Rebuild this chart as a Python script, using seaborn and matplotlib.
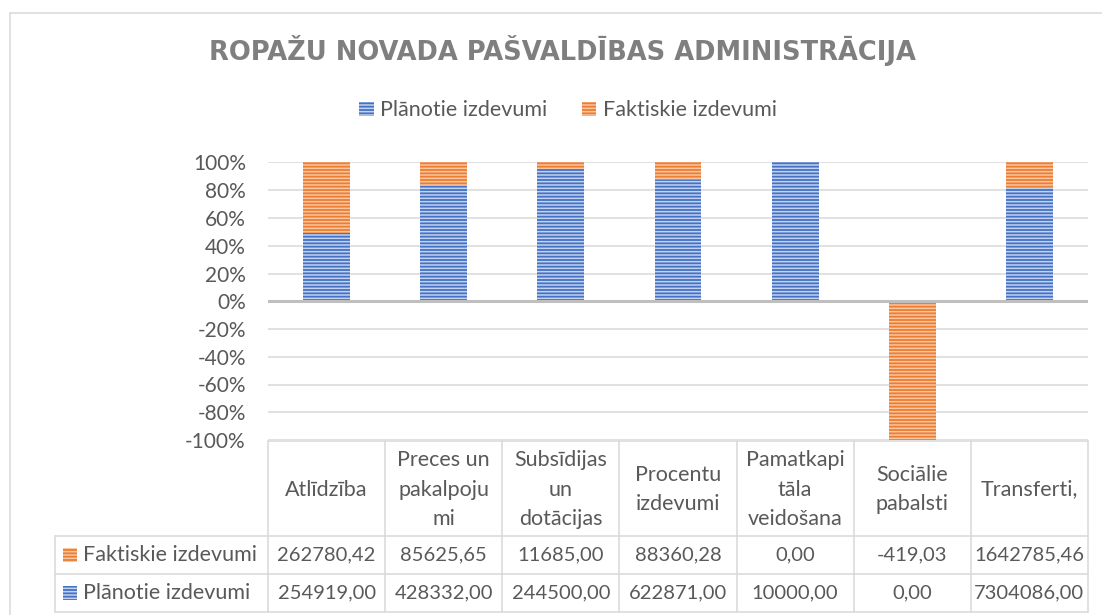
import numpy as np
import pandas as pd
import matplotlib
matplotlib.use("Agg")
import matplotlib.pyplot as plt
import seaborn as sns
from matplotlib.patches import Patch, Rectangle
from matplotlib.lines import Line2D
from matplotlib import transforms

# ---------------- data ----------------
title = "ROPAŽU NOVADA PAŠVALDĪBAS ADMINISTRĀCIJA"
categories = ["Atlīdzība", "Preces un\npakalpoju\nmi", "Subsīdijas\nun\ndotācijas",
              "Procentu\nizdevumi", "Pamatkapi\ntāla\nveidošana", "Sociālie\npabalsti",
              "Transferti,"]
planned = [254919.00, 428332.00, 244500.00, 622871.00, 10000.00, 0.00, 7304086.00]
actual = [262780.42, 85625.65, 11685.00, 88360.28, 0.00, -419.03, 1642785.46]
series_names = ["Plānotie izdevumi", "Faktiskie izdevumi"]
y_ticks = [100, 80, 60, 40, 20, 0, -20, -40, -60, -80, -100]

# ---------------- style ----------------
sns.set_theme(style="white")
plt.rcParams["font.family"] = ["Lato", "DejaVu Sans"]
plt.rcParams["hatch.linewidth"] = 1.1

BLUE, ORANGE = "#4472C4", "#ED7D31"
BLUE_H, ORANGE_H = "#c3d2ef", "#f7c6a3"
TXT, GRID = "#595959", "#d9d9d9"
FS_TXT = 15.5
FS_NUM = 14.5
FS_TICK = 15

W, H = 1102, 615
fig = plt.figure(figsize=(W / 100, H / 100), dpi=100)
L, R, T, B = 268, 1088, 162.5, 440
ax = fig.add_axes([L / W, 1 - B / H, (R - L) / W, (B - T) / H])

# 100% stacked shares
pl = np.array(planned)
ac = np.array(actual)
tot = np.abs(pl) + np.abs(ac)
p_share = pl / tot * 100
a_share = ac / tot * 100
orange_top = np.where(ac >= 0, p_share + a_share, a_share)

df = pd.DataFrame({"cat": categories, "plan": p_share, "fact_top": orange_top})
sns.barplot(data=df, x="cat", y="fact_top", order=categories, color=ORANGE,
            saturation=1, width=0.4, ax=ax, zorder=2)
n_orange = len(ax.patches)
sns.barplot(data=df, x="cat", y="plan", order=categories, color=BLUE,
            saturation=1, width=0.4, ax=ax, zorder=2)
for i, p in enumerate(ax.patches):
    hc = ORANGE_H if i < n_orange else BLUE_H
    p.set_edgecolor(hc)
    p.set_linewidth(0)
    p.set_hatch("-----")

ax.set_ylim(-100, 100)
ax.set_xlim(-0.5, len(categories) - 0.5)
ax.set_yticks(y_ticks)
ax.set_yticklabels([f"{v}%" for v in y_ticks])
ax.set_xticks([])
ax.set_xlabel("")
ax.set_ylabel("")
ax.tick_params(axis="y", length=0, pad=16, labelsize=FS_TICK, labelcolor=TXT)
ax.set_axisbelow(True)
ax.yaxis.grid(True, color=GRID, lw=1.1)
ax.axhline(0, color="#bfbfbf", lw=2.2, zorder=3)
for s in ax.spines.values():
    s.set_visible(False)

# ---------------- title & legend ----------------
fig.text(562 / W, 1 - 51 / H, title, ha="center", va="center", fontsize=18.5,
         fontweight="bold", color="#7f7f7f", family=["DejaVu Sans"])

handles = [Patch(facecolor=BLUE, edgecolor=BLUE_H, hatch="-----", lw=0),
           Patch(facecolor=ORANGE, edgecolor=ORANGE_H, hatch="-----", lw=0)]
fig.legend(handles, series_names, loc="center", bbox_to_anchor=(568 / W, 1 - 110.5 / H),
           ncol=2, frameon=False, fontsize=FS_TXT, handlelength=0.68, handleheight=0.68,
           handletextpad=0.3, columnspacing=1.6, labelcolor=TXT, borderaxespad=0)

# ---------------- data table ----------------
trans = transforms.blended_transform_factory(ax.transData, fig.transFigure)
ncat = len(categories)
def xd(xpx):
    return (xpx - L) / (R - L) * ncat - 0.5
def fy(ypx):
    return 1 - ypx / H

y_top, y_hdr, y_mid, y_bot = 441, 536, 574, 612
x_leg = xd(55)
def tline(xs, ys):
    fig.add_artist(Line2D(xs, ys, transform=trans, color=GRID, lw=1.1))

tline([-0.5, ncat - 0.5], [fy(y_top)] * 2)
for yy in (y_hdr, y_mid, y_bot):
    tline([x_leg, ncat - 0.5], [fy(yy)] * 2)
for k in range(ncat + 1):
    tline([k - 0.5, k - 0.5], [fy(y_top), fy(y_bot)])
tline([x_leg, x_leg], [fy(y_hdr), fy(y_bot)])

for i, c in enumerate(categories):
    ax.text(i, fy((y_top + y_hdr) / 2 + 1), c, transform=trans, ha="center", va="center",
            fontsize=FS_TXT, color=TXT, linespacing=1.6, multialignment="center")

def fmt(v):
    return f"{v:.2f}".replace(".", ",")

rows = [(series_names[1], actual, ORANGE, ORANGE_H, (y_hdr + y_mid) / 2),
        (series_names[0], planned, BLUE, BLUE_H, (y_mid + y_bot) / 2)]
sq = 14.5
for name, vals, fc, hc, yc in rows:
    fig.add_artist(Rectangle((xd(63), fy(yc + sq / 2)), sq / (R - L) * ncat, sq / H,
                             transform=trans, facecolor=fc, edgecolor=hc, lw=0,
                             hatch="-----"))
    ax.text(xd(83), fy(yc), name, transform=trans, ha="left", va="center",
            fontsize=FS_TXT, color=TXT)
    for i, v in enumerate(vals):
        ax.text(i, fy(yc), fmt(v), transform=trans, ha="center", va="center",
                fontsize=FS_NUM, color=TXT)

# chart border
fig.add_artist(Line2D([10 / W, 1], [fy(12.7)] * 2, transform=fig.transFigure, color=GRID, lw=1.1))
fig.add_artist(Line2D([10 / W, 10 / W], [fy(12.7), 0], transform=fig.transFigure, color=GRID, lw=1.1))

fig.savefig("out.png", dpi=100)
